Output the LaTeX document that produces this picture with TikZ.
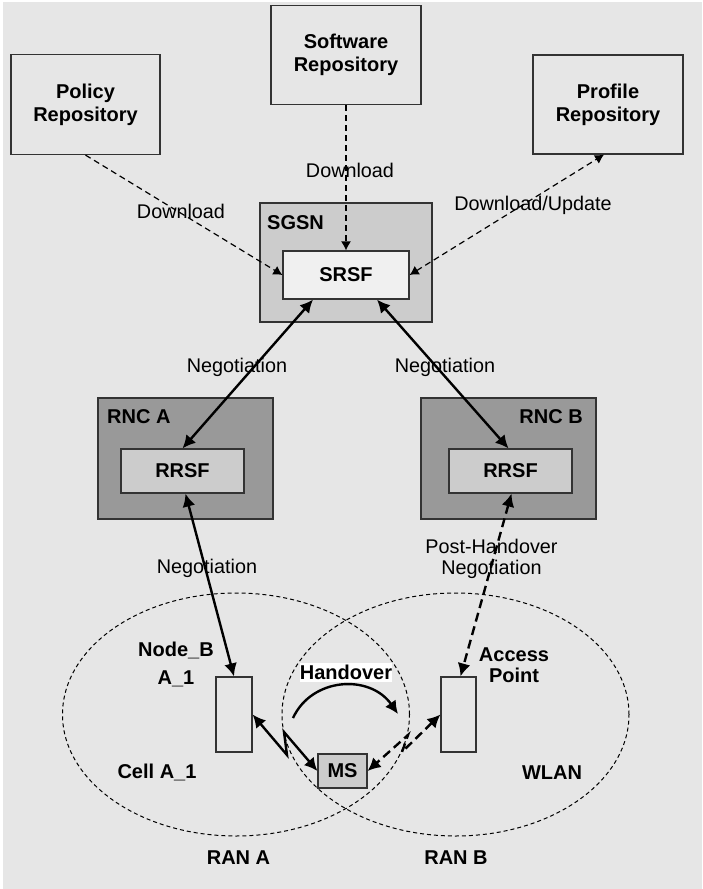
\documentclass[tikz,border=0pt]{standalone}
\usepackage{fontspec}
\setmainfont{Liberation Sans}
\usetikzlibrary{arrows.meta}
\definecolor{bggray}{HTML}{E6E6E6}
\definecolor{midgray}{HTML}{CCCCCC}
\definecolor{darkgray}{HTML}{999999}
\definecolor{lightbox}{HTML}{F0F0F0}
\definecolor{edge}{HTML}{333333}
\begin{document}
\begin{tikzpicture}[x=1pt,y=-1pt]
				\tikzstyle{Box} = [draw=edge, line width=1.2pt, inner sep=0pt, align=center, font=\fontsize{20}{23}\selectfont\bfseries]
				\tikzstyle{Bold} = [inner sep=0pt, align=center, font=\fontsize{20}{21}\selectfont\bfseries]
				\tikzstyle{Plain} = [inner sep=0pt, align=center, font=\fontsize{19.8}{21}\selectfont]
				\tikzstyle{Fetch} = [line width=1.2pt, dash pattern=on 6pt off 4pt, -{Latex[length=9pt,width=10pt]}]
				\tikzstyle{FetchBoth} = [Fetch, {Latex[length=9pt,width=10pt]}-{Latex[length=9pt,width=10pt]}]
				\tikzstyle{Negotiate} = [line width=2.4pt, {Latex[length=13pt,width=13pt]}-{Latex[length=13pt,width=13pt]}]
				\tikzstyle{PostNeg} = [Negotiate, dash pattern=on 9pt off 5pt]
				\tikzstyle{Cover} = [line width=1pt, dash pattern=on 4pt off 3pt]
				\useasboundingbox (0,0) rectangle (702,889);
				\fill [white] (0,0) rectangle (702,889);
				\fill [bggray] (3,2) rectangle (702,889);
				\draw [Cover] (236,714.5) ellipse [x radius=173.5pt, y radius=121.5pt];
				\draw [Cover] (455.5,714.5) ellipse [x radius=173.5pt, y radius=121.5pt];
				\node (policy) at (85.5,104.5) [Box, minimum width=149, minimum height=100] {Policy\\Repository};
				\node (software) at (346,55) [Box, minimum width=150, minimum height=99] {Software\\Repository};
				\node (profile) at (608,104.5) [Box, minimum width=150, minimum height=99] {Profile\\Repository};
				\node (sgsn) at (346,262.5) [Box, fill=midgray, minimum width=172, minimum height=119] {};
				\node (sgsnlabel) at (267,223) [Bold, anchor=west] {SGSN};
				\node (srsf) at (346,275) [Box, fill=lightbox, minimum width=126, minimum height=48] {SRSF};
				\node (rnca) at (185.5,458.5) [Box, fill=darkgray, minimum width=175, minimum height=121] {};
				\node (rncalabel) at (107,417) [Bold, anchor=west] {RNC A};
				\node (rrsfa) at (182.5,471) [Box, fill=midgray, minimum width=123, minimum height=44] {RRSF};
				\node (rncb) at (508.5,458.5) [Box, fill=darkgray, minimum width=175, minimum height=121] {};
				\node (rncblabel) at (583,417) [Bold, anchor=east] {RNC B};
				\node (rrsfb) at (510.5,471) [Box, fill=midgray, minimum width=123, minimum height=44] {RRSF};
				\node (nodeb) at (234,714.5) [Box, minimum width=36, minimum height=75] {};
				\node (ap) at (458.5,714.5) [Box, minimum width=35, minimum height=75] {};
				\node (ms) at (342.5,771) [Box, fill=midgray, minimum width=49, minimum height=34] {MS};
				\coordinate (hostart) at (293,718);
				\coordinate (hoend) at (398,714);
				\draw [Fetch] (policy.south) to (srsf.west);
				\draw [Fetch] (software.south) to (srsf.north);
				\draw [FetchBoth] (srsf.east) to ([xshift=-4pt]profile.south);
				\draw [Negotiate] ([xshift=-33pt]srsf.south) to (rrsfa.north);
				\draw [Negotiate] ([xshift=31pt]srsf.south) to ([xshift=-2pt]rrsfb.north);
				\draw [Negotiate] ([xshift=3pt]rrsfa.south) to (nodeb.north);
				\draw [PostNeg] ([xshift=1pt]rrsfb.south) to ([xshift=2pt]ap.north);
				\draw [Negotiate] (nodeb.east) -- (287,755) -- (284,732) -- (ms.west);
				\draw [PostNeg] (ap.west) -- (402,752) -- (408,735) -- (ms.east);
				\draw [line width=2.4pt, -{Latex[length=13pt,width=13pt]}] (hostart) .. controls (312,677) and (370,674) .. (hoend);
				\node (dlpolicy) at (181,211) [Plain] {Download};
				\node (dlsoftware) at (350,170) [Plain] {Download};
				\node (dlprofile) at (533,205) [Plain] {Download/Update};
				\node (nega) at (237,367) [Plain] {Negotiation};
				\node (negb) at (445,367) [Plain] {Negotiation};
				\node (negnodeb) at (207,568) [Plain] {Negotiation};
				\node (postneg) at (491.5,558.5) [Plain] {Post-Handover\\Negotiation};
				\node (nodeblabel) at (176,664) [Bold, font=\fontsize{20}{28}\selectfont\bfseries] {Node\_B\\A\_1};
				\node (aplabel) at (514,665.5) [Bold] {Access\\Point};
				\node (holabel) at (346,672.5) [Bold, fill=white, inner ysep=2pt] {Handover};
				\node (celllabel) at (157,772) [Bold] {Cell A\_1};
				\node (wlanlabel) at (552,773) [Bold] {WLAN};
				\node (ranalabel) at (238.5,858) [Bold] {RAN A};
				\node (ranblabel) at (456,858) [Bold] {RAN B};
			\end{tikzpicture}
\end{document}
